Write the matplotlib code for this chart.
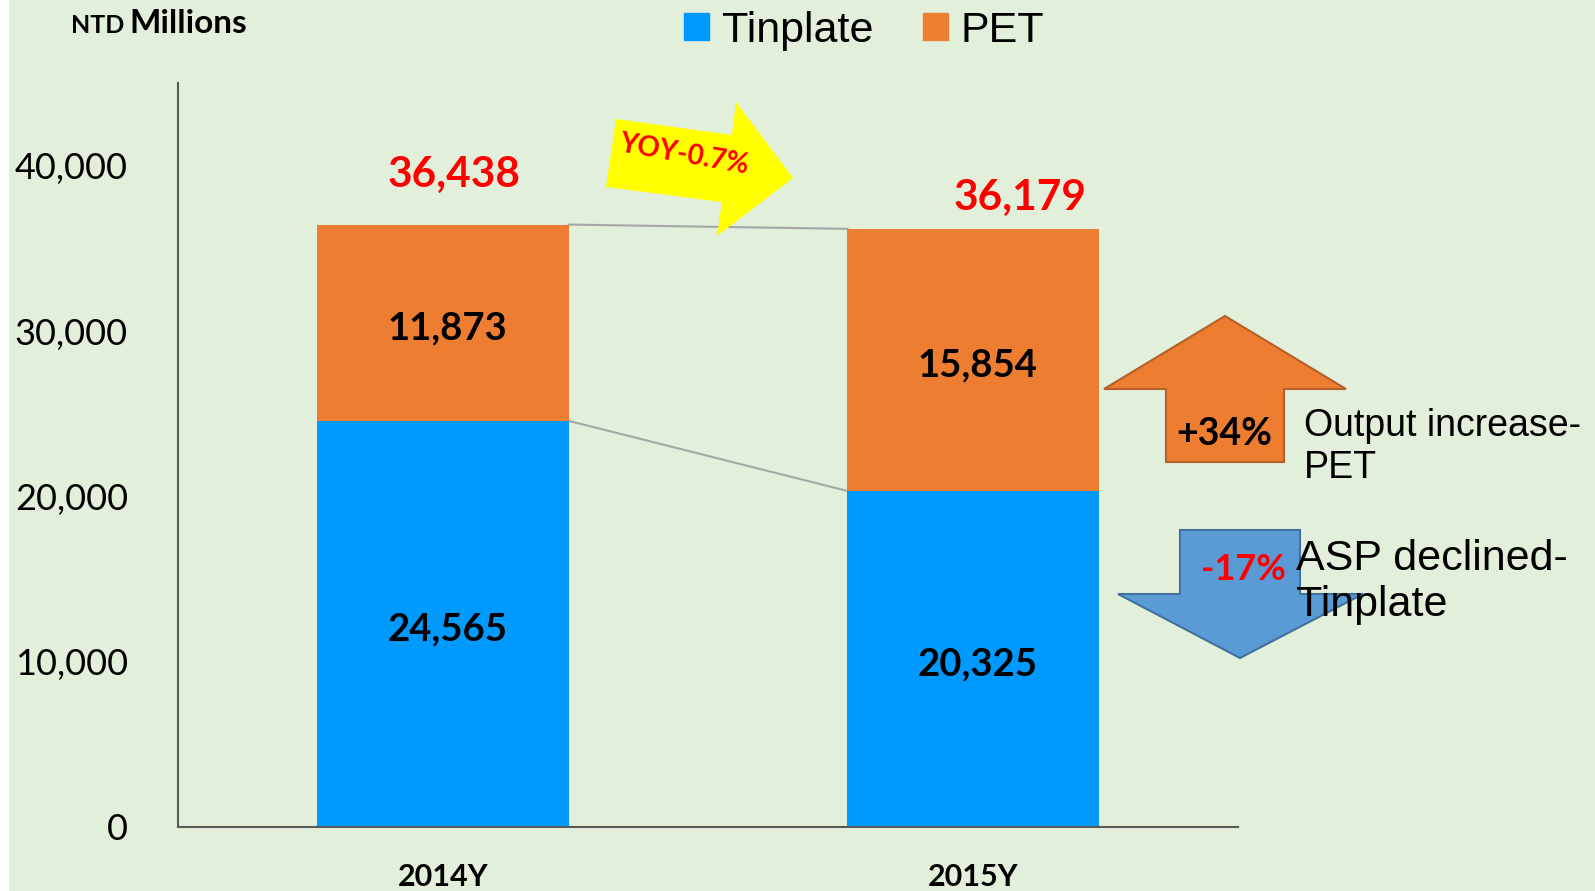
import matplotlib.pyplot as plt
import numpy as np
from matplotlib.patches import Polygon, Rectangle, Patch

years = ['2014Y', '2015Y']
tinplate = [24565, 20325]
pet = [11873, 15854]
totals = [36438, 36179]
yticks = [0, 10000, 20000, 30000, 40000]

W, H = 1595, 891
bg = '#E2EFDA'
c_tin = '#009AFF'
c_pet = '#ED7D31'
calibri = 'Lato'
arial = 'Liberation Sans'

fig = plt.figure(figsize=(W / 100, H / 100), dpi=100, facecolor=bg)
fig.patches.append(Rectangle((0, 0), 8 / W, 1, transform=fig.transFigure, color='white', zorder=0))

def px(x, y):
    return (x / W, 1 - y / H)

ax = fig.add_axes([178 / W, 1 - 827 / H, (1238 - 178) / W, (827 - 83) / H])
ax.set_facecolor(bg)
x = np.arange(len(years))
w = 0.474
ax.bar(x, tinplate, w, color=c_tin, zorder=2)
ax.bar(x, pet, w, bottom=tinplate, color=c_pet, zorder=2)
ax.set_xlim(-0.5, 1.5)
ax.set_ylim(0, 45000)

# connector lines between bars
ax.plot([x[0] + w / 2, x[1] - w / 2], [totals[0], totals[1]], color='#A6A6A6', lw=1.5, zorder=1)
ax.plot([x[0] + w / 2, x[1] - w / 2], [tinplate[0], tinplate[1]], color='#A6A6A6', lw=1.5, zorder=1)

for i in x:
    ax.annotate(f'{tinplate[i]:,}', (i, tinplate[i] / 2), xytext=(3, -4), textcoords='offset points',
                ha='center', va='center', fontsize=27.5, fontweight='bold', family=calibri, zorder=3)
    ax.annotate(f'{pet[i]:,}', (i, tinplate[i] + pet[i] / 2), xytext=(3, -4), textcoords='offset points',
                ha='center', va='center', fontsize=27.5, fontweight='bold', family=calibri, zorder=3)
ax.annotate(f'{totals[0]:,}', (x[0], totals[0]), xytext=(8, 36), textcoords='offset points',
            ha='center', va='center', fontsize=30.5, fontweight='bold', color='red', family=calibri)
ax.annotate(f'{totals[1]:,}', (x[1], totals[1]), xytext=(34, 22), textcoords='offset points',
            ha='center', va='center', fontsize=30.5, fontweight='bold', color='red', family=calibri)

ax.set_yticks(yticks)
ax.set_yticklabels([f'{v:,}' for v in yticks], fontsize=26, family=calibri)
ax.set_xticks(x)
ax.set_xticklabels(years, fontsize=22, fontweight='bold', family=calibri)
ax.tick_params(axis='y', length=0, pad=36)
ax.tick_params(axis='x', length=0, pad=26)
for s in ['top', 'right']:
    ax.spines[s].set_visible(False)
for s in ['left', 'bottom']:
    ax.spines[s].set_color('#595959')
    ax.spines[s].set_linewidth(1.5)

# unit label
fig.text(*px(71, 33), 'NTD', fontsize=18, fontweight='bold', family=calibri, va='baseline')
fig.text(*px(129, 33), 'Millions', fontsize=24, fontweight='bold', family=calibri, va='baseline')

# legend
handles = [Patch(color=c_tin, label='Tinplate'), Patch(color=c_pet, label='PET')]
fig.legend(handles=handles, loc='center', bbox_to_anchor=px(864, 31), ncol=2, frameon=False,
           prop={'family': arial, 'size': 31}, handlelength=0.58, handleheight=0.58,
           handletextpad=0.3, columnspacing=1.15)

# YOY arrow
yoy = [(616, 119), (732, 135), (736, 102), (793, 178), (717, 236), (722, 202), (606, 187)]
fig.patches.append(Polygon([px(*p) for p in yoy], closed=True, transform=fig.transFigure,
                           facecolor='#FFFF00', edgecolor='none', zorder=3))
fig.text(*px(684, 154), 'YOY-0.7%', rotation=-10, ha='center', va='center', fontsize=20,
         fontweight='bold', color='red', family=calibri, zorder=4)

# up arrow (PET)
up = [(1225, 316), (1346, 389), (1284, 389), (1284, 462), (1166, 462), (1166, 389), (1104, 389)]
fig.patches.append(Polygon([px(*p) for p in up], closed=True, transform=fig.transFigure,
                           facecolor=c_pet, edgecolor='#B5602A', lw=1.5, zorder=3))
fig.text(*px(1224, 434), '+34%', ha='center', va='center', fontsize=27, fontweight='bold',
         family=calibri, zorder=4)
fig.text(*px(1304, 447), 'Output increase-\nPET', ha='left', va='center', fontsize=27,
         family=arial, linespacing=1.2, zorder=4)

# down arrow (Tinplate)
down = [(1180, 530), (1300, 530), (1300, 594), (1363, 594), (1240, 658), (1118, 594), (1180, 594)]
fig.patches.append(Polygon([px(*p) for p in down], closed=True, transform=fig.transFigure,
                           facecolor='#5B9BD5', edgecolor='#41719C', lw=1.5, zorder=3))
fig.text(*px(1243, 569), '-17%', ha='center', va='center', fontsize=26, fontweight='bold',
         color='red', family=calibri, zorder=4)
fig.text(*px(1296, 582), 'ASP declined-\nTinplate', ha='left', va='center', fontsize=31,
         family=arial, linespacing=1.2, zorder=4)

fig.savefig('out.png', dpi=100, facecolor=bg)
